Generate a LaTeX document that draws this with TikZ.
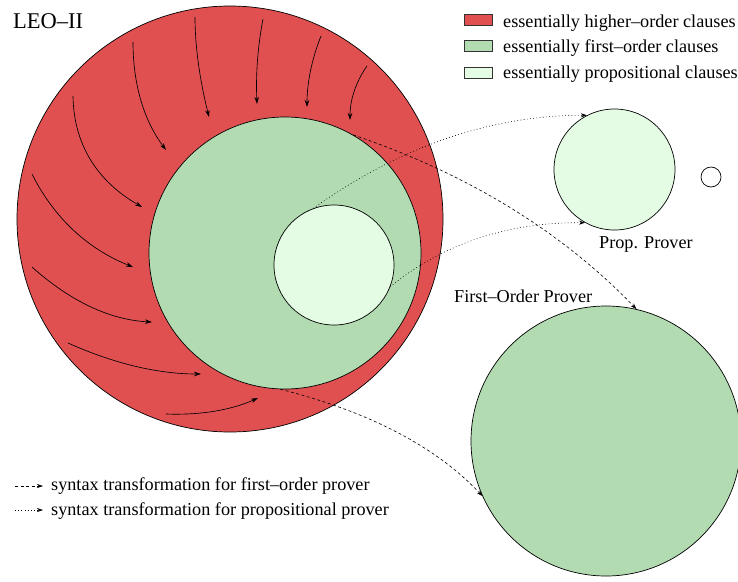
\documentclass[tikz,border=0pt]{standalone}
\usepackage{fontspec}
\setmainfont{Liberation Serif}
\usetikzlibrary{arrows.meta}
\definecolor{hored}{HTML}{E05050}
\definecolor{fogreen}{HTML}{B2DBB2}
\definecolor{proplight}{HTML}{E3FCE3}
\begin{document}
\begin{tikzpicture}[x=1pt,y=-1pt,
  disc/.style={circle,draw=black,line width=0.7pt,inner sep=0pt},
  flow/.style={line width=0.65pt,-{Stealth[length=7pt,width=4.5pt]}},
  fotrans/.style={line width=0.6pt,dash pattern=on 3pt off 2.5pt,-{Stealth[length=6pt,width=4pt]}},
  proptrans/.style={line width=0.6pt,dash pattern=on 0.8pt off 2.4pt,-{Stealth[length=6pt,width=4pt]}},
  lbl/.style={font=\fontsize{18.2}{20}\selectfont,inner sep=0pt,anchor=base west},
  swatch/.style={draw=black!80,line width=0.6pt,minimum width=28pt,minimum height=11pt,inner sep=0pt}
]
\useasboundingbox (0,0) rectangle (738,581);

% main LEO-II disc
\node[disc,fill=hored,minimum size=426pt] (leo) at (230,219) {};

% flow arrows in the higher-order ring
\draw[flow] (195,17) .. controls (195,46.3) and (199.7,79.7) .. (209,117);
\draw[flow] (263,19) .. controls (257.7,46.3) and (255.7,74.7) .. (257,104);
\draw[flow] (321,36) .. controls (311.7,59.3) and (307,83) .. (307,107);
\draw[flow] (367,66) .. controls (355.7,82) and (350,100) .. (350,120);
\draw[flow] (133,42) .. controls (133,84.7) and (144,120.7) .. (166,150);
\draw[flow] (73,96) .. controls (73.7,144) and (96.7,181) .. (142,207);
\draw[flow] (32,174) .. controls (54,218) and (87.7,249) .. (133,267);
\draw[flow] (32,267) .. controls (70.7,301.7) and (110.7,320) .. (152,322);
\draw[flow] (68,343) .. controls (114,363.7) and (158.3,374) .. (201,374);
\draw[flow] (166,414) .. controls (200.7,415.3) and (231.3,410) .. (258,398);

\node[disc,fill=fogreen,minimum size=272pt] (fo) at (285,253) {};
\node[disc,fill=proplight,minimum size=120pt] (light) at (334,265) {};

% provers
\node[disc,fill=proplight,minimum size=121pt] (pp) at (614.5,169.5) {};
\node[disc,fill=white,minimum size=20pt] (sm) at (711,177) {};
\node[disc,fill=fogreen,minimum size=270pt] (fop) at (606,441) {};

% transformations
\draw[fotrans] (fo.60) .. controls (467.7,173.7) and (562.1,231.8) .. (fop.77);
\draw[fotrans] (fo.268) .. controls (369.4,411.6) and (436.9,447.3) .. (fop.204);
\draw[proptrans] (light.110) .. controls (400.5,146.2) and (491.7,115.2) .. (pp.117);
\draw[proptrans] (light.339) .. controls (443.3,243.5) and (508.4,222.1) .. (pp.241);

% labels
\node[lbl,font=\fontsize{22.5}{24}\selectfont] (title) at (13,28.3) {LEO--II};
\node[lbl] (ppl) at (599,248.3) {Prop. Prover};
\node[lbl] (fopl) at (454,302.7) {First--Order Prover};

% legend top
\node[swatch,fill=hored] (sw1) at (478,20) {};
\node[swatch,fill=fogreen] (sw2) at (478,45.5) {};
\node[swatch,fill=proplight] (sw3) at (478,72.5) {};
\node[lbl] (t1) at (503,27.3) {essentially higher--order clauses};
\node[lbl] (t2) at (503,52.7) {essentially first--order clauses};
\node[lbl] (t3) at (503,78.3) {essentially propositional clauses};

% legend bottom
\coordinate (d1s) at (15,486);
\coordinate (d1e) at (43,486);
\coordinate (d2s) at (15,510);
\coordinate (d2e) at (43,510);
\draw[fotrans] (d1s) -- (d1e);
\draw[proptrans] (d2s) -- (d2e);
\node[lbl] (b1) at (51,490.7) {syntax transformation for first--order prover};
\node[lbl] (b2) at (51,515) {syntax transformation for propositional prover};
\end{tikzpicture}
\end{document}
